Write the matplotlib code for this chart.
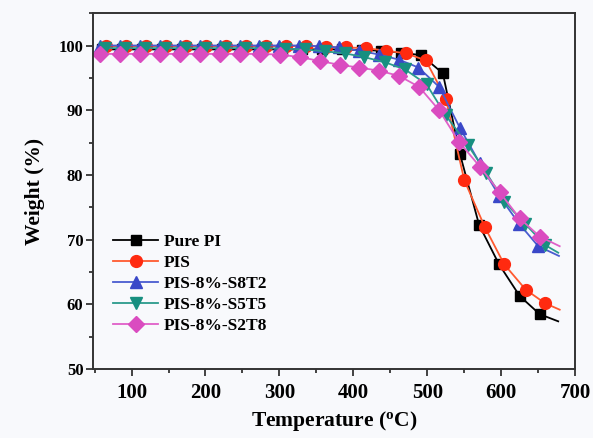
import matplotlib
matplotlib.use('Agg')
import matplotlib.pyplot as plt
from matplotlib.ticker import MultipleLocator

plt.rcParams['font.family'] = 'Liberation Serif'
plt.rcParams['font.weight'] = 'bold'
plt.rcParams['mathtext.fontset'] = 'custom'
plt.rcParams['mathtext.bf'] = 'Liberation Serif:bold'
plt.rcParams['mathtext.rm'] = 'Liberation Serif:bold'

# marker positions, last point is the end of the line
t_pi = [60, 87, 114, 141, 168, 195, 222, 249, 276, 303, 330, 357, 384, 411, 438, 465, 492, 521, 544, 570, 597, 625, 652, 677]
w_pi = [99.4, 99.4, 99.4, 99.4, 99.4, 99.4, 99.4, 99.4, 99.4, 99.4, 99.4, 99.4, 99.4, 99.3, 99.2, 98.9, 98.5, 95.7, 83.3, 72.3, 66.2, 61.3, 58.5, 57.4]

t_pis = [66, 93, 120, 147, 174, 201, 228, 255, 282, 309, 336, 363, 390, 417, 444, 471, 498, 525, 550, 578, 604, 633, 659, 679]
w_pis = [99.9, 99.9, 99.9, 99.9, 99.9, 99.9, 99.9, 99.9, 99.9, 99.9, 99.9, 99.8, 99.7, 99.6, 99.2, 98.8, 97.7, 91.8, 79.2, 71.9, 66.2, 62.3, 60.2, 59.2]

t_s8t2 = [57, 84, 111, 138, 165, 192, 219, 246, 273, 300, 327, 354, 381, 408, 435, 462, 488, 516, 544, 571, 597, 624, 650, 678]
w_s8t2 = [100.0, 100.0, 100.0, 100.0, 100.0, 100.0, 100.0, 100.0, 100.0, 100.0, 100.0, 99.9, 99.7, 99.2, 98.6, 97.8, 96.6, 93.6, 87.3, 81.8, 76.8, 72.5, 69.0, 67.5]

t_s5t5 = [64, 91, 118, 145, 172, 199, 226, 253, 280, 307, 334, 361, 388, 415, 443, 470, 499, 525, 555, 580, 604, 632, 659, 677]
w_s5t5 = [99.6, 99.6, 99.6, 99.6, 99.6, 99.6, 99.6, 99.6, 99.6, 99.5, 99.4, 99.1, 98.8, 98.2, 97.4, 96.3, 94.0, 89.2, 84.6, 80.3, 75.9, 72.5, 69.2, 68.0]

t_s2t8 = [58, 85, 112, 139, 166, 193, 220, 247, 274, 301, 328, 355, 382, 408, 435, 462, 489, 516, 543, 571, 598, 625, 652, 679]
w_s2t8 = [98.7, 98.7, 98.7, 98.7, 98.7, 98.7, 98.7, 98.7, 98.7, 98.6, 98.2, 97.6, 97.0, 96.6, 96.1, 95.3, 93.6, 90.0, 85.1, 81.3, 77.3, 73.3, 70.5, 69.0]

series = [
    ('Pure PI', t_pi, w_pi, 'black', 'black', 's', 7),
    ('PIS', t_pis, w_pis, '#ff5a30', '#ff2a10', 'o', 8.5),
    ('PIS-8%-S8T2', t_s8t2, w_s8t2, '#4a5cd0', '#3a48c8', '^', 9),
    ('PIS-8%-S5T5', t_s5t5, w_s5t5, '#2a9a8c', '#178f80', 'v', 9),
    ('PIS-8%-S2T8', t_s2t8, w_s2t8, '#e060c8', '#da4cc0', 'D', 8),
]

bg = '#f8f9fc'
fig = plt.figure(figsize=(5.93, 4.38), dpi=100, facecolor=bg)
ax = fig.add_axes([0.157, 0.157, 0.813, 0.813], facecolor=bg)

for name, t, w, lc, mc, mk, ms in series:
    ax.plot(t, w, color=lc, lw=1.3, marker=mk, ms=ms, mfc=mc, mec=mc,
            markevery=list(range(len(t) - 1)), label=name)

ax.set_xlim(48, 700)
ax.set_ylim(50, 105)
ax.xaxis.set_major_locator(MultipleLocator(100))
ax.xaxis.set_minor_locator(MultipleLocator(50))
ax.yaxis.set_major_locator(MultipleLocator(10))
ax.yaxis.set_minor_locator(MultipleLocator(5))
ax.tick_params(which='major', direction='out', length=5, width=1.3, color='#333333')
ax.tick_params(which='minor', direction='out', length=3, width=1.3, color='#333333')
ax.tick_params(axis='x', labelsize=15, pad=5)
ax.tick_params(axis='y', labelsize=12, pad=2)
for s in ax.spines.values():
    s.set_linewidth(1.4)
    s.set_color('#333333')

ax.set_xlabel(r'Temperature ($\mathbf{^o}$C)', fontsize=15.5, fontweight='bold', labelpad=4)
ax.set_ylabel('Weight (%)', fontsize=15.5, fontweight='bold', labelpad=10)

ax.legend(loc='lower left', bbox_to_anchor=(0.02, 0.07), frameon=False,
          fontsize=12.5, handlelength=2.6, handletextpad=0.3, labelspacing=0.28,
          borderaxespad=0.2)

fig.savefig('out.png', dpi=100, facecolor=bg)
